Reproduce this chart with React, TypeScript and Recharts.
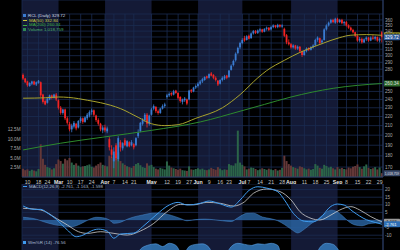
import React from 'react'
import { ComposedChart, Bar, Line, Area, XAxis, YAxis, CartesianGrid, ReferenceArea, ReferenceLine, Cell } from 'recharts'

// daily candles, Feb 6 .. Sep 30 (trading days, index 0..162)
const opens = [
  272, 267, 263, 257, 260, 263, 259, 261, 262, 246,
  238, 236, 240, 245, 242, 246, 239, 230, 224, 228,
  218, 212, 206, 209, 212, 208, 215, 218, 214, 218,
  221, 225, 227, 221, 216, 212, 205, 208, 204, 196,
  186, 175, 190, 177, 193, 187, 195, 189, 193, 190,
  191, 190, 199, 204, 212, 216, 222, 212, 222, 229,
  231, 226, 224, 229, 232, 243, 245, 248, 246, 251,
  248, 243, 237, 239, 240, 240, 252, 250, 255, 257,
  260, 263, 265, 270, 268, 274, 272, 268, 264, 260,
  265, 267, 271, 269, 279, 286, 293, 304, 313, 320,
  328, 325, 332, 328, 336, 340, 337, 341, 343, 339,
  344, 346, 343, 347, 350, 347, 351, 348, 344, 333,
  321, 318, 313, 316, 311, 314, 307, 301, 307, 312,
  309, 313, 316, 325, 328, 321, 325, 343, 350, 355,
  360, 355, 362, 356, 360, 354, 356, 350, 346, 342,
  338, 332, 324, 327, 321, 326, 329, 324, 329, 327,
  330, 324, 338,
]
const highs = [
  274, 268, 264, 262, 264, 264, 263, 265, 263, 247,
  240, 242, 246, 246, 247, 248, 240, 232, 229, 229,
  220, 214, 212, 215, 213, 216, 220, 219, 220, 224,
  227, 229, 228, 222, 218, 213, 210, 211, 209, 198,
  190, 188, 192, 199, 195, 193, 197, 195, 194, 195,
  192, 198, 206, 214, 218, 224, 224, 222, 230, 234,
  232, 228, 230, 234, 236, 247, 249, 249, 252, 252,
  249, 244, 241, 243, 241, 252, 253, 256, 259, 262,
  265, 268, 270, 271, 274, 276, 273, 270, 265, 266,
  270, 272, 272, 279, 287, 294, 305, 314, 322, 328,
  332, 333, 334, 338, 342, 342, 343, 345, 344, 345,
  348, 347, 349, 352, 351, 353, 352, 352, 346, 335,
  326, 320, 318, 317, 316, 315, 308, 309, 313, 313,
  315, 318, 327, 331, 329, 326, 345, 352, 357, 362,
  362, 364, 364, 362, 362, 358, 358, 352, 348, 344,
  339, 334, 330, 329, 328, 331, 330, 331, 333, 332,
  331, 329, 340,
]
const lows = [
  265, 261, 256, 256, 258, 258, 257, 260, 243, 235,
  233, 235, 239, 240, 241, 238, 228, 222, 222, 216,
  211, 204, 203, 207, 205, 207, 213, 212, 213, 216,
  219, 222, 220, 214, 210, 204, 202, 203, 202, 185,
  178, 169, 176, 175, 184, 185, 189, 188, 188, 189,
  186, 189, 197, 203, 210, 214, 208, 210, 221, 227,
  224, 222, 223, 228, 230, 241, 243, 244, 245, 247,
  240, 236, 234, 237, 233, 239, 248, 249, 253, 255,
  258, 261, 264, 266, 267, 270, 266, 263, 257, 259,
  263, 265, 266, 268, 278, 284, 291, 302, 310, 318,
  322, 324, 326, 327, 334, 335, 335, 338, 337, 338,
  341, 340, 341, 345, 345, 345, 346, 346, 330, 318,
  316, 311, 311, 309, 309, 305, 298, 300, 305, 307,
  308, 311, 315, 322, 318, 318, 324, 341, 348, 353,
  354, 353, 354, 354, 352, 350, 348, 344, 340, 336,
  330, 322, 321, 319, 320, 323, 322, 323, 325, 324,
  322, 321, 321,
]
const closes = [
  267, 262, 258, 261, 263, 259, 262, 264, 245, 237,
  234, 241, 245, 242, 246, 240, 230, 224, 228, 218,
  213, 206, 210, 213, 207, 215, 218, 214, 219, 222,
  225, 227, 222, 216, 212, 206, 208, 205, 207, 188,
  181, 184, 178, 197, 188, 192, 190, 194, 189, 193,
  188, 197, 203, 213, 216, 222, 212, 221, 228, 232,
  226, 224, 229, 232, 234, 245, 247, 246, 250, 248,
  242, 238, 240, 241, 235, 251, 250, 255, 257, 260,
  263, 266, 269, 268, 273, 271, 268, 265, 259, 265,
  268, 270, 268, 278, 285, 292, 303, 312, 320, 325,
  324, 331, 327, 336, 340, 337, 341, 343, 339, 344,
  346, 342, 347, 350, 347, 351, 348, 350, 332, 321,
  318, 313, 316, 311, 314, 307, 301, 307, 311, 309,
  313, 316, 325, 329, 320, 324, 343, 350, 355, 360,
  356, 362, 356, 360, 354, 356, 350, 346, 342, 338,
  332, 324, 327, 321, 326, 329, 324, 329, 327, 330,
  324, 327, 329.72,
]
// volume in millions
const volumes = [
  2.2, 1.8, 2.0, 1.6, 1.9, 1.7, 1.5, 2.1, 8.6, 4.8, 3.2, 2.6, 2.4, 2.0, 2.3, 3.4,
  4.6, 4.2, 3.5, 4.8, 4.4, 5.0, 3.8, 3.2, 3.6, 3.0, 2.6, 2.8, 2.9, 3.1, 3.3, 2.7, 2.5, 3.0, 3.4, 3.8, 3.2,
  3.0, 2.8, 5.6, 5.2, 6.0, 5.4, 6.5, 4.2, 3.6, 3.2, 2.8, 2.6, 2.4, 2.9, 3.4, 3.7, 3.1, 2.6, 2.4, 3.6, 3.0,
  3.2, 2.6, 2.2, 2.0, 2.4, 2.2, 2.0, 4.1, 3.0, 2.5, 2.3, 2.1, 1.9, 2.2, 1.8, 1.7, 1.6, 2.8, 2.0, 1.9, 2.1,
  2.3, 2.0, 2.2, 1.9, 1.8, 2.0, 2.4, 2.1, 1.9, 2.6, 2.2, 1.8, 2.0, 1.9, 3.4, 3.1, 3.0, 3.6, 12.2, 3.8,
  3.2, 2.8, 2.0, 2.2, 2.5, 2.4, 2.1, 1.8, 2.0, 2.3, 2.1, 1.9, 2.2, 2.0, 1.8, 2.1, 1.7, 1.9, 2.4, 5.6, 4.2, 3.4,
  3.0, 2.6, 2.4, 2.2, 2.8, 2.6, 2.3, 2.0, 2.2, 1.9, 2.1, 3.4, 3.0, 2.4, 2.2, 3.2, 2.9, 2.5, 2.7, 2.3, 2.0,
  2.6, 2.2, 2.4, 2.1, 2.0, 2.5, 2.3, 2.7, 2.9, 3.3, 2.6, 2.2, 2.8, 3.3, 2.4, 2.1, 2.3, 2.6, 2.0, 2.5, 1.018759,
]

const ma50Days = [0, 10, 16, 25, 29, 35, 44, 52, 58, 64, 70, 78, 90, 98, 106, 110, 118, 125, 135, 143, 148, 155, 162]
const ma50 = [241.5, 242, 243, 241, 239, 236, 229, 219, 212, 210, 211, 218, 230, 246, 268, 278, 293, 305, 319, 329, 333, 334, 332.84]
const ma200Days = [0, 17, 36, 58, 80, 98, 109, 121, 140, 162]
const ma200 = [185.5, 192, 198, 205, 214, 226, 234, 243, 254, 260.34]

const macdDays = [0, 5, 8, 11, 15, 20, 24, 27, 31, 34, 38, 41, 44, 50, 54, 60, 66, 70, 74, 80, 84, 89, 94, 98, 102, 106, 110, 115, 118, 122, 127, 131, 134, 139, 142, 145, 149, 155, 159, 162]
const macd = [9.2, 7, 7, 4.6, 0.5, -6.6, -11, -10, -7, -6, -7.3, -12, -9.2, -8.6, -4.4, 3.3, 9.9, 11.6, 9.9, 11, 12.5, 10.6, 8.5, 13.2, 19.5, 21.9, 21, 18.6, 13.2, 4.4, -0.8, -1.2, 1.1, 9, 10.5, 9.8, 5.5, 0.2, -1.6, -2.761]
const signalDays = [0, 8, 15, 20, 25, 29, 35, 41, 47, 53, 59, 65, 71, 77, 83, 89, 95, 100, 104, 110, 116, 121, 125, 130, 134, 139, 143, 148, 152, 157, 162]
const signal = [7.7, 6.6, 1.1, -3.3, -7.7, -8.8, -7.7, -8.8, -9.9, -7.2, -2.2, 5.5, 10.3, 10, 11.6, 11, 9.2, 12, 17.6, 20.4, 18.7, 13.2, 5.5, 1.1, 0, 3.3, 6.6, 8.8, 6.6, 2.2, -1.163]
const histDays = [0, 6, 9, 14, 18, 22, 26, 30, 33, 36, 39, 41, 44, 47, 50, 54, 58, 62, 67, 71, 74, 78, 82, 86, 90, 94, 97, 101, 104, 108, 112, 115, 118, 121, 124, 127, 130, 133, 136, 139, 141, 144, 147, 150, 153, 156, 159, 162]
const hist = [1.8, 0.5, -1, -3, -4, -4.4, -2.5, 0.5, 1.8, 1.5, 0, -2.2, -1.5, 0.5, 2, 3.3, 4.4, 4.5, 3, 1, -0.5, 0.3, 0.6, 0.2, -0.5, -1, 1.5, 4.4, 4.5, 2, 0.8, -0.5, -3, -6, -8.5, -6, -2.5, 0.5, 4, 6.5, 6, 3, -1, -3.3, -3.8, -2.5, -2, -1.598]
const wrDays = [0, 8, 10, 20, 28, 34, 40, 44, 50, 53, 56, 60, 63, 66, 69, 72, 75, 78, 81, 84, 88, 91, 94, 97, 100, 103, 106, 109, 112, 115, 118, 121, 125, 128, 131, 134, 137, 140, 143, 147, 151, 155, 159, 162]
const wr = [-60, -50, -90, -95, -60, -70, -95, -70, -60, -15, -8, -5, -10, -4, -8, -25, -10, -6, -5, -12, -50, -30, -10, -4, -6, -8, -5, -6, -4, -8, -60, -85, -90, -60, -40, -12, -4, -6, -20, -50, -90, -70, -60, -76.56]

const tickDays = [2, 7, 11, 16, 21, 26, 31, 37, 41, 46, 50, 58, 65, 70, 75, 79, 84, 89, 93, 99, 102, 107, 112, 117, 121, 127, 132, 137, 142, 146, 151, 156, 161]
const tickLabels = ['10', '18', '24', 'Mar', '10', '17', '24', 'Apr', '7', '14', '21', 'May', '12', '19', '27', 'Jun', '9', '16', '23', 'Jul', '7', '14', '21', '28', 'Aug', '11', '18', '25', 'Sep', '8', '15', '22', '29']
// shaded months (Feb, Apr, Jun, Aug), first trading day to first trading day of next month
const shadeFrom = [-0.5, 37, 79, 121]
const shadeTo = [16, 58, 99, 142]

const priceTicks = [170, 180, 190, 200, 210, 220, 230, 240, 250, 260, 270, 280, 290, 300, 310, 320, 330, 340, 350, 360]
const priceTicksUnderTags = [260, 270, 330]
const volTicks = [2.5, 5, 7.5, 10, 12.5]
const macdTicks = [-10, -5, 0, 5, 10, 15, 20]
const macdTicksUnderTags = [0]
const topTicks = [10]

const UP = '#3a7bd0'
const DOWN = '#f22424'
const GRID = '#1b2c50'
const SHADE = '#141a36'
const AXIS = '#2f4066'
const TXT = '#a9a9a9'

const rows = closes.map((c, i) => ({ i, o: opens[i], h: highs[i], l: lows[i], c, v: volumes[i], range: [lows[i], highs[i]] }))
const pts = (days: number[], vals: number[]) => days.map((d, k) => ({ i: d, v: vals[k] }))
const xDomain: [number, number] = [-0.5, 162.5]
const last = rows.length - 1

const Candle = (p: any) => {
  const { x, y, width, height, payload } = p
  if (!payload || height == null) return null
  const { o, h, l, c } = payload
  const span = Math.log(h / l) || 1
  const yOf = (v: number) => y + (Math.log(h / v) / span) * height
  const top = yOf(Math.max(o, c))
  const bot = yOf(Math.min(o, c))
  const color = c >= o ? UP : DOWN
  const cx = x + width / 2
  return (
    <g>
      <line x1={cx} x2={cx} y1={y} y2={y + height} stroke={color} strokeWidth={0.8} />
      <rect x={cx - 0.9} y={top} width={1.8} height={Math.max(0.8, bot - top)} fill={color} />
    </g>
  )
}

const DateTick = ({ x, y, payload }: any) => {
  const label = tickLabels[tickDays.indexOf(payload.value)] ?? ''
  const month = /[A-Z]/.test(label)
  return (
    <text x={x} y={y + 5.4} textAnchor="middle" fontSize={5.2} fontWeight={month ? 700 : 400} fill={month ? '#e6e6e6' : '#c4c4c4'}>
      {label}
    </text>
  )
}

// right-axis tick; labels sitting under a value tag are left out, as in the reference
const rightTick = (covered: number[]) => ({ x, y, payload }: any) =>
  covered.includes(payload.value) ? <g /> : (
    <text x={x} y={y} dy={1.6} fontSize={4.5} fill={TXT}>{payload.value}</text>
  )

const tag = (text: string, bg: string, fg: string, size = 4.6) => (props: any) => {
  const vb = props.viewBox
  if (!vb) return null
  const x = vb.x + vb.width + 1
  return (
    <g>
      <rect x={x} y={vb.y - 3} width={16} height={6} fill={bg} rx={0.6} />
      <text x={x + 0.8} y={vb.y + 1.6} fontSize={size} fill={fg}>{text}</text>
    </g>
  )
}

// month shading, drawn in a chart of its own underneath so it never covers the marks
const Backdrop = ({ height }: { height: number }) => (
  <ComposedChart width={400} height={height} data={rows} margin={{ top: 0, right: 0, bottom: 0, left: 22 }}>
    <XAxis xAxisId="a" dataKey="i" type="number" domain={xDomain} allowDataOverflow ticks={tickDays} tick={false} tickLine={false} axisLine={false} height={0} />
    <YAxis yAxisId="bg" orientation="right" width={17} domain={[0, 1]} allowDataOverflow tick={false} tickLine={false} axisLine={false} />
    {shadeFrom.map((f, k) => (
      <ReferenceArea key={k} xAxisId="a" yAxisId="bg" x1={f} x2={shadeTo[k]} y1={0} y2={1} fill={SHADE} fillOpacity={1} stroke="none" />
    ))}
  </ComposedChart>
)

const dateAxis = (orientation: 'top' | 'bottom', withTicks: boolean) => (
  <XAxis
    xAxisId="a"
    dataKey="i"
    type="number"
    domain={xDomain}
    allowDataOverflow
    ticks={tickDays}
    interval={0}
    orientation={orientation}
    tick={withTicks ? <DateTick /> : false}
    tickLine={false}
    tickSize={0}
    axisLine={{ stroke: AXIS }}
    height={withTicks ? 7 : 0}
  />
)

const layer: React.CSSProperties = { position: 'absolute', left: 0, top: 0 }

function TopPanel() {
  return (
    <>
      <div style={layer}><Backdrop height={14} /></div>
      <div style={layer}>
        <ComposedChart width={400} height={14} data={rows} margin={{ top: 0, right: 0, bottom: 0, left: 22 }}>
          {dateAxis('bottom', false)}
          <YAxis yAxisId="t" orientation="right" width={17} domain={[0, 17]} ticks={topTicks} interval={0} axisLine={{ stroke: AXIS }} tickLine={false} tickSize={0} tickMargin={2} tick={rightTick([])} />
          <CartesianGrid xAxisId="a" yAxisId="t" stroke={GRID} strokeWidth={0.8} />
        </ComposedChart>
      </div>
    </>
  )
}

function PricePanel() {
  const vol = Math.round(volumes[last] * 1e6).toLocaleString('en-US')
  return (
    <>
      <div style={layer}><Backdrop height={163} /></div>
      <div style={layer}>
        <ComposedChart width={400} height={170} data={rows} margin={{ top: 0, right: 0, bottom: 0, left: 0 }}>
          {dateAxis('bottom', true)}
          <XAxis xAxisId="b" dataKey="i" type="number" domain={xDomain} allowDataOverflow hide />
          <YAxis yAxisId="vol" orientation="left" width={22} domain={[0, 42.9]} allowDataOverflow ticks={volTicks} interval={0}
            tickFormatter={(v: number) => `${v.toFixed(1)}M`} axisLine={false} tickLine={false} tickSize={0} tickMargin={1.5} tick={{ fontSize: 4.6, fill: TXT }} />
          <YAxis yAxisId="price" orientation="right" width={17} scale="log" domain={[161.6, 371]} allowDataOverflow ticks={priceTicks} interval={0}
            axisLine={{ stroke: AXIS }} tickLine={false} tickSize={0} tickMargin={2} tick={rightTick(priceTicksUnderTags)} />
          <CartesianGrid xAxisId="a" yAxisId="price" stroke={GRID} strokeWidth={0.8} />
          <Bar xAxisId="b" yAxisId="vol" dataKey="v" barSize={2} isAnimationActive={false}>
            {rows.map(d => <Cell key={d.i} fill={d.c >= d.o ? '#2b6448' : '#643838'} />)}
          </Bar>
          <Line xAxisId="a" yAxisId="price" data={pts(ma200Days, ma200)} dataKey="v" type="monotone" stroke="#2d8a2d" strokeWidth={1} dot={false} isAnimationActive={false} />
          <Line xAxisId="a" yAxisId="price" data={pts(ma50Days, ma50)} dataKey="v" type="monotone" stroke="#a9a32c" strokeWidth={1} dot={false} isAnimationActive={false} />
          <Bar xAxisId="a" yAxisId="price" dataKey="range" barSize={2} isAnimationActive={false} shape={(p: any) => <Candle {...p} />} />
          <ReferenceLine xAxisId="a" yAxisId="price" y={ma200[ma200.length - 1]} stroke="none" ifOverflow="visible" label={tag(ma200[ma200.length - 1].toFixed(2), '#2c6a2c', '#dcdcdc')} />
          <ReferenceLine xAxisId="a" yAxisId="price" y={ma50[ma50.length - 1]} stroke="none" ifOverflow="visible" label={tag(ma50[ma50.length - 1].toFixed(2), '#8f8b24', '#161616')} />
          <ReferenceLine xAxisId="a" yAxisId="price" y={closes[last]} stroke="none" ifOverflow="visible" label={tag(closes[last].toFixed(2), '#2f5c9a', '#ffffff')} />
          <ReferenceLine xAxisId="b" yAxisId="vol" y={volumes[last]} stroke="none" ifOverflow="visible" label={tag(vol, '#39496a', '#e0e0e0', 3.2)} />
        </ComposedChart>
      </div>
    </>
  )
}

function MacdPanel() {
  return (
    <>
      <div style={layer}><Backdrop height={55} /></div>
      <div style={layer}>
        <ComposedChart width={400} height={55} data={rows} margin={{ top: 0, right: 0, bottom: 0, left: 22 }}>
          {dateAxis('top', false)}
          <YAxis yAxisId="m" orientation="right" width={17} domain={[-12.5, 23.7]} allowDataOverflow ticks={macdTicks} interval={0}
            axisLine={{ stroke: AXIS }} tickLine={false} tickSize={0} tickMargin={2} tick={rightTick(macdTicksUnderTags)} />
          <CartesianGrid xAxisId="a" yAxisId="m" stroke={GRID} strokeWidth={0.8} />
          <Area xAxisId="a" yAxisId="m" data={pts(histDays, hist)} dataKey="v" type="monotone" baseValue={0} fill="#2a66a6" fillOpacity={0.8} stroke="#4a8cd0" strokeWidth={0.5} isAnimationActive={false} />
          <Line xAxisId="a" yAxisId="m" data={pts(signalDays, signal)} dataKey="v" type="monotone" stroke="#cfcfcf" strokeWidth={0.8} dot={false} isAnimationActive={false} />
          <Line xAxisId="a" yAxisId="m" data={pts(macdDays, macd)} dataKey="v" type="monotone" stroke="#3f9cf0" strokeWidth={1} dot={false} isAnimationActive={false} />
          <ReferenceLine xAxisId="a" yAxisId="m" y={signal[signal.length - 1]} stroke="none" ifOverflow="visible" label={tag(signal[signal.length - 1].toFixed(3), '#9a9a9a', '#111111', 4.2)} />
          <ReferenceLine xAxisId="a" yAxisId="m" y={macd[macd.length - 1]} stroke="none" ifOverflow="visible" label={tag(macd[macd.length - 1].toFixed(3), '#2d6fb6', '#ffffff', 4.2)} />
        </ComposedChart>
      </div>
    </>
  )
}

function WrPanel() {
  return (
    <>
      <div style={layer}><Backdrop height={56} /></div>
      <div style={layer}>
        <ComposedChart width={400} height={56} data={rows} margin={{ top: 0, right: 0, bottom: 0, left: 22 }}>
          {dateAxis('top', false)}
          <YAxis yAxisId="w" orientation="right" width={17} domain={[-100, 4]} allowDataOverflow tick={false} axisLine={{ stroke: AXIS }} tickLine={false} />
          <CartesianGrid xAxisId="a" yAxisId="w" stroke={GRID} strokeWidth={0.8} horizontal={false} />
          <Area xAxisId="a" yAxisId="w" data={pts(wrDays, wr)} dataKey="v" type="monotone" baseValue={-100} fill="#3274b4" fillOpacity={0.9} stroke="#5aa2e6" strokeWidth={0.6} isAnimationActive={false} />
        </ComposedChart>
      </div>
    </>
  )
}

const dash = (color: string) => <span style={{ display: 'inline-block', width: 4, height: 1, background: color, marginRight: 2, verticalAlign: 'middle' }} />
const block = (color: string) => <span style={{ display: 'inline-block', width: 3, height: 3, background: color, marginRight: 2, verticalAlign: 'middle' }} />

export default function App() {
  const vol = Math.round(volumes[last] * 1e6).toLocaleString('en-US')
  const legend: React.CSSProperties = { position: 'absolute', left: 23, fontSize: 4.4, lineHeight: '4.7px', whiteSpace: 'nowrap' }
  return (
    <div style={{ position: 'fixed', left: 0, top: 0, width: 400, height: 250, background: '#000', overflow: 'hidden', fontFamily: '"Liberation Sans", Arial, sans-serif' }}>
      <div style={{ position: 'absolute', left: 0, top: 0 }}><TopPanel /></div>
      <div style={{ position: 'absolute', left: 0, top: 14 }}><PricePanel /></div>
      <div style={{ position: 'absolute', left: 0, top: 184 }}><MacdPanel /></div>
      <div style={{ position: 'absolute', left: 0, top: 239 }}><WrPanel /></div>

      <div style={{ ...legend, top: 14 }}>
        <div style={{ color: '#d4dbe6' }}>{block(UP)}RCL (Daily) {closes[last].toFixed(2)}</div>
        <div style={{ color: '#c9c43a' }}>{dash('#c9c43a')}MA(50) {ma50[ma50.length - 1].toFixed(2)}</div>
        <div style={{ color: '#3fae3f' }}>{dash('#3fae3f')}MA(200) {ma200[ma200.length - 1].toFixed(2)}</div>
        <div style={{ color: '#4cb36a' }}>{block('#2f8a54')}Volume {vol}</div>
      </div>
      <div style={{ ...legend, top: 184.5, color: '#a9bad2' }}>
        {dash('#3f9cf0')}MACD(12,26,9) {macd[macd.length - 1].toFixed(3)}, {signal[signal.length - 1].toFixed(3)}, {hist[hist.length - 1].toFixed(3)}
      </div>
      <div style={{ ...legend, top: 241, color: '#a9bad2' }}>
        {block('#3f9cf0')}Wm%R (14) {wr[wr.length - 1].toFixed(2)}
      </div>
    </div>
  )
}
